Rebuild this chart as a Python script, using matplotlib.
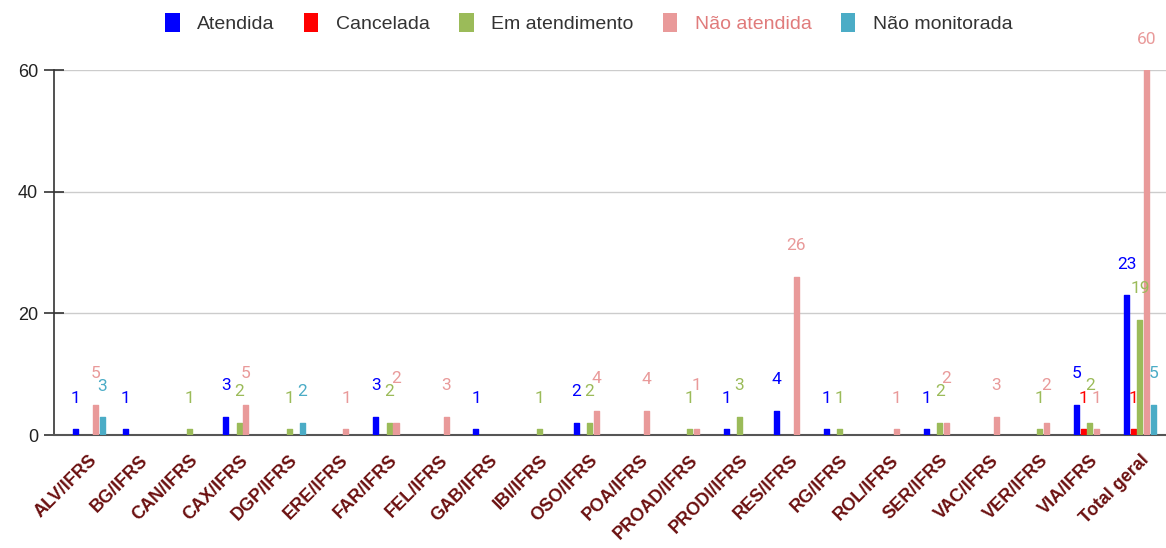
import numpy as np
import matplotlib.pyplot as plt

plt.rcParams['font.family'] = ['Roboto', 'DejaVu Sans']

# Categorias (campi) e séries
categorias = ['ALV/IFRS', 'BG/IFRS', 'CAN/IFRS', 'CAX/IFRS', 'DGP/IFRS', 'ERE/IFRS',
              'FAR/IFRS', 'FEL/IFRS', 'GAB/IFRS', 'IBI/IFRS', 'OSO/IFRS', 'POA/IFRS',
              'PROAD/IFRS', 'PRODI/IFRS', 'RES/IFRS', 'RG/IFRS', 'ROL/IFRS', 'SER/IFRS',
              'VAC/IFRS', 'VER/IFRS', 'VIA/IFRS', 'Total geral']

atendida       = [1, 1, 0, 3, 0, 0, 3, 0, 1, 0, 2, 0, 0, 1, 4, 1, 0, 1, 0, 0, 5, 23]
cancelada      = [0, 0, 0, 0, 0, 0, 0, 0, 0, 0, 0, 0, 0, 0, 0, 0, 0, 0, 0, 0, 1, 1]
em_atendimento = [0, 0, 1, 2, 1, 0, 2, 0, 0, 1, 2, 0, 1, 3, 0, 1, 0, 2, 0, 1, 2, 19]
nao_atendida   = [5, 0, 0, 5, 0, 1, 2, 3, 0, 0, 4, 4, 1, 0, 26, 0, 1, 2, 3, 2, 1, 60]
nao_monitorada = [3, 0, 0, 0, 2, 0, 0, 0, 0, 0, 0, 0, 0, 0, 0, 0, 0, 0, 0, 0, 0, 5]

series = [
    ('Atendida', atendida, '#0000ff'),
    ('Cancelada', cancelada, '#ff0000'),
    ('Em atendimento', em_atendimento, '#9bbb59'),
    ('Não atendida', nao_atendida, '#e99a9a'),
    ('Não monitorada', nao_monitorada, '#4bacc6'),
]

fig = plt.figure(figsize=(11.66, 5.48), dpi=100)
ax = fig.add_axes([0.0463, 0.206, 0.9537, 0.666])

x = np.arange(len(categorias))
passo = 0.134
largura = 0.1

ax.set_xlim(-0.7, 21.52)
ax.set_ylim(0, 60)

# rótulos: posição em pixels com afastamento simples para evitar sobreposição
rotulos = []
for i, (nome, valores, cor) in enumerate(series):
    desloc = (i - 2) * passo
    v = np.array(valores, dtype=float)
    mask = v > 0
    ax.bar(x[mask] + desloc, v[mask], width=largura, color=cor, edgecolor=cor,
           linewidth=1, joinstyle='round', zorder=3)
    for xi, vi in zip(x[mask] + desloc, v[mask]):
        rotulos.append((xi, vi, cor))
    ax.bar([np.nan], [np.nan], color=cor, label=nome)

rotulos.sort(key=lambda r: r[0])
caixas = []
alt = 13


def colide(px, y0, w):
    for c in caixas:
        cx, cy, cw, cv = c
        if abs(cx - px) < (cw + w) / 2 and abs(cy - y0) < alt:
            return c
    return None


for xi, vi, cor in rotulos:
    px, py = ax.transData.transform((xi, vi))
    txt = f'{int(vi)}'
    w = 8.5 * len(txt)
    y0 = py + 31
    c = colide(px, y0, w)
    if (c is not None and c[3] > vi and c[1] - alt >= py + 18
            and colide(px, c[1] - alt, w) is None):
        y0 = c[1] - alt
    else:
        while c is not None:
            y0 = c[1] + alt
            c = colide(px, y0, w)
    caixas.append((px, y0, w, vi))
    dx, dy = ax.transData.inverted().transform((px, y0))
    ax.text(dx, dy, txt, ha='center', va='center', color=cor, fontsize=12.5,
            zorder=4, clip_on=False)

ax.set_yticks([0, 20, 40, 60])
ax.grid(axis='y', color='#cccccc', linewidth=1, zorder=0)
ax.tick_params(axis='y', direction='inout', length=15, width=1.2, color='#333333',
               labelsize=13, labelcolor='#222222', pad=4)
for t in ax.get_yticklabels():
    t.set_family(['Liberation Sans', 'DejaVu Sans'])
ax.tick_params(axis='x', length=0, pad=12)

ax.set_xticks(x)
ax.set_xticklabels(categorias, rotation=45, ha='right', rotation_mode='anchor',
                   fontsize=13, fontweight='bold', color='#6b1010',
                   family=['Liberation Sans', 'DejaVu Sans'])

for lado in ['top', 'right']:
    ax.spines[lado].set_visible(False)
ax.spines['left'].set_color('#333333')
ax.spines['left'].set_linewidth(1.2)
ax.spines['bottom'].set_color('#555555')
ax.spines['bottom'].set_linewidth(1.5)

leg = fig.legend(loc='upper center', bbox_to_anchor=(0.505, 1.008), ncol=5, frameon=False,
                 prop={'family': ['Liberation Sans', 'DejaVu Sans'], 'size': 14},
                 handlelength=0.75, handleheight=1.1, columnspacing=1.5,
                 handletextpad=0.9)
for t in leg.get_texts():
    t.set_color('#333333')
leg.get_texts()[3].set_color('#e07b7b')

fig.savefig('out.png', dpi=100)
